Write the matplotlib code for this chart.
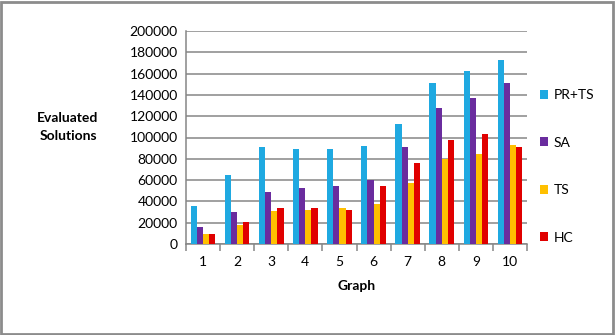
import matplotlib

matplotlib.use("Agg")
import matplotlib.pyplot as plt  # noqa: E402
import numpy as np  # noqa: E402
from matplotlib.patches import Rectangle  # noqa: E402

graphs = ["1", "2", "3", "4", "5", "6", "7", "8", "9", "10"]
series = ["PR+TS", "SA", "TS", "HC"]
pr_ts = [36000, 65000, 91000, 89500, 89500, 92300, 113000, 151200, 162100, 173000]
sa = [16000, 29800, 48500, 52600, 54000, 60400, 91000, 127700, 137400, 151200]
ts = [9000, 18000, 31000, 32000, 33500, 37900, 57300, 79500, 84200, 92700]
hc = [9000, 21000, 33500, 33500, 32000, 54200, 76000, 98000, 103300, 91000]
colors = ["#1fa9e1", "#6a2c9e", "#ffc000", "#e00000"]

plt.rcParams["font.family"] = ["Lato", "DejaVu Sans"]

fig = plt.figure(figsize=(6.15, 3.35), dpi=100)
ax = fig.add_axes([186 / 615, 91 / 335, 341 / 615, 213 / 335])

x = np.arange(len(graphs))
w = 0.18
for i, (vals, name, c) in enumerate(zip([pr_ts, sa, ts, hc], series, colors)):
    ax.bar(x + (i - 1.5) * w, vals, width=w, color=c, label=name, zorder=3)

ax.set_xlim(-0.5, len(graphs) - 0.5)
ax.set_ylim(0, 200000)
ax.set_yticks(range(0, 200001, 20000))
ax.set_yticklabels([str(v) for v in range(0, 200001, 20000)], fontsize=10)
ax.yaxis.grid(True, color="#868686", linewidth=1.1, zorder=0)
ax.tick_params(axis="y", length=0, pad=6)

ax.set_xticks(x)
ax.set_xticklabels(graphs, fontsize=10)
ax.set_xticks(np.arange(-0.5, len(graphs), 1), minor=True)
ax.tick_params(axis="x", which="major", length=0, pad=9)
ax.tick_params(axis="x", which="minor", length=5, color="#868686", width=1.1)

for s in ["top", "right"]:
    ax.spines[s].set_visible(False)
for s in ["left", "bottom"]:
    ax.spines[s].set_color("#868686")
    ax.spines[s].set_linewidth(1.1)

ax.set_xlabel("Graph", fontsize=10, fontweight="bold", labelpad=8)
fig.text(68 / 615, 1 - 127 / 335, "Evaluated\nSolutions", fontsize=10,
         fontweight="bold", ha="center", va="center", linespacing=1.5)

leg = ax.legend(loc="center left", bbox_to_anchor=(1.0, 0.364), frameon=False,
                fontsize=10, handlelength=0.6, handleheight=0.6,
                handletextpad=0.4, labelspacing=2.55)

fig.patches.append(Rectangle((0.002, 0.004), 0.994, 0.99, transform=fig.transFigure,
                             fill=False, edgecolor="#8c8c8c", linewidth=2))

fig.savefig("out.png", dpi=100)
plt.close(fig)
